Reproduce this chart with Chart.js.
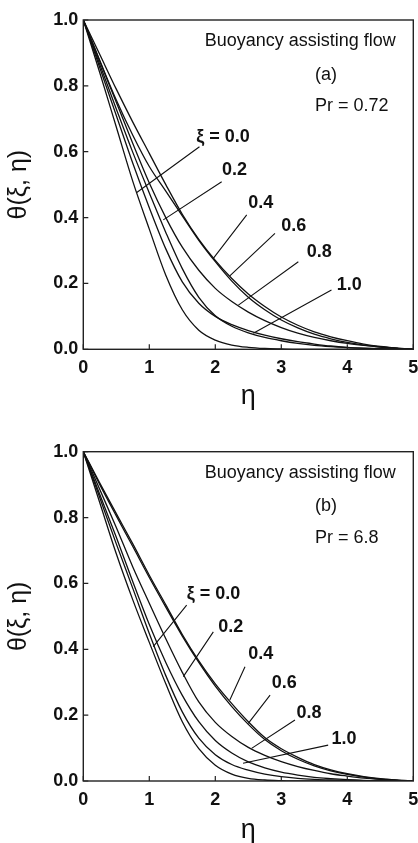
<!DOCTYPE html>
<html><head><meta charset="utf-8">
<script src="https://cdn.jsdelivr.net/npm/chart.js@4/dist/chart.umd.min.js"></script>
<style>
html,body{margin:0;padding:0;background:#fff;}
body{width:418px;height:843px;overflow:hidden;position:relative;}
.wrap{position:absolute;left:0;width:418px;}
#wa{top:0;height:421px;}
#wb{top:421px;height:422px;}
</style></head><body>
<div class="wrap" id="wa"><canvas id="ca" width="418" height="421"></canvas></div>
<div class="wrap" id="wb"><canvas id="cb" width="418" height="422"></canvas></div>
<script>
// ---------- data ----------
const eta = [0,0.25,0.5,0.75,1,1.25,1.5,1.75,2,2.25,2.5,2.75,3,3.25,3.5,3.75,4,4.25,4.5,4.75,5];
const xTicks = [0,1,2,3,4,5];
const yTicks = [0,0.2,0.4,0.6,0.8,1.0];
const xiLabels = ['ξ = 0.0','0.2','0.4','0.6','0.8','1.0'];

// Panel (a) Pr = 0.72
const a_xi00 = [1,0.84,0.675,0.51,0.365,0.225,0.12,0.058,0.028,0.013,0.006,0.0025,0.001,0,0,0,0,0,0,0,0];
const a_xi02 = [1,0.865,0.73,0.598,0.475,0.355,0.245,0.158,0.102,0.07,0.05,0.036,0.026,0.018,0.012,0.008,0.005,0.003,0.0015,0.0006,0];
const a_xi04 = [1,0.877,0.757,0.65,0.555,0.48,0.405,0.331,0.266,0.207,0.158,0.12,0.089,0.065,0.046,0.032,0.021,0.013,0.007,0.003,0];
const a_xi06 = [1,0.895,0.79,0.69,0.595,0.5,0.41,0.334,0.27,0.215,0.168,0.13,0.098,0.073,0.053,0.038,0.026,0.016,0.009,0.004,0];
const a_xi08 = [1,0.875,0.75,0.625,0.505,0.4,0.31,0.24,0.185,0.145,0.113,0.087,0.066,0.049,0.036,0.026,0.018,0.012,0.007,0.003,0];
const a_xi10 = [1,0.855,0.71,0.565,0.43,0.305,0.205,0.14,0.1,0.075,0.057,0.043,0.032,0.023,0.016,0.01,0.006,0.0035,0.0018,0.0007,0];

// Panel (b) Pr = 6.8
const b_xi00 = [1,0.845,0.69,0.55,0.421,0.295,0.18,0.098,0.048,0.021,0.008,0.003,0.001,0,0,0,0,0,0,0,0];
const b_xi02 = [1,0.885,0.77,0.65,0.54,0.432,0.33,0.24,0.178,0.135,0.102,0.078,0.059,0.044,0.032,0.022,0.015,0.009,0.005,0.002,0];
const b_xi04 = [1,0.905,0.812,0.72,0.625,0.535,0.445,0.365,0.295,0.235,0.18,0.132,0.098,0.072,0.05,0.034,0.022,0.013,0.007,0.003,0];
const b_xi06 = [1,0.9,0.805,0.712,0.618,0.528,0.44,0.36,0.288,0.226,0.172,0.126,0.092,0.066,0.046,0.031,0.02,0.012,0.006,0.002,0];
const b_xi08 = [1,0.87,0.74,0.605,0.475,0.36,0.26,0.18,0.123,0.085,0.058,0.04,0.027,0.018,0.011,0.007,0.004,0.002,0.001,0.0004,0];
const b_xi10 = [1,0.86,0.72,0.585,0.448,0.32,0.21,0.13,0.08,0.05,0.033,0.021,0.013,0.008,0.005,0.003,0.0015,0.0007,0.0003,0,0];

// annotation anchors in data units (eta, theta)
const a_labelPos = [[1.71,0.645],[2.10,0.545],[2.50,0.445],[3.00,0.374],[3.385,0.296],[3.84,0.195]];
const a_leaders  = [[1.76,0.615,0.81,0.476],[2.097,0.509,1.212,0.393],[2.476,0.408,1.97,0.276],[2.904,0.352,2.22,0.223],[3.258,0.266,2.35,0.134],[3.76,0.180,2.576,0.049]];
const b_labelPos = [[1.566,0.568],[2.045,0.467],[2.50,0.386],[2.854,0.297],[3.23,0.205],[3.76,0.127]];
const b_leaders  = [[1.566,0.534,1.06,0.408],[1.97,0.453,1.515,0.317],[2.45,0.347,2.22,0.246],[2.83,0.261,2.50,0.175],[3.207,0.185,2.55,0.099],[3.71,0.109,2.42,0.054]];
const a_notes = [['Buoyancy assisting flow',1.84,0.937],['(a)',3.51,0.833],['Pr = 0.72',3.51,0.739]];
const b_notes = [['Buoyancy assisting flow',1.84,0.934],['(b)',3.51,0.835],['Pr = 6.8',3.51,0.737]];

// ---------- drawing ----------
const FONT = "'Liberation Sans', Arial, Helvetica, sans-serif";

function frameAndAnnotations(labelPos, leaders, notes) {
  return {
    id: 'frameAnno',
    afterDatasetsDraw(chart) {
      const {ctx, chartArea: ca, scales: {x, y}} = chart;
      ctx.save();
      ctx.strokeStyle = '#222';
      ctx.lineWidth = 1.4;
      ctx.strokeRect(ca.left, ca.top, ca.right - ca.left, ca.bottom - ca.top);
      ctx.lineWidth = 1.2;
      ctx.beginPath();
      xTicks.forEach(v => { const px = x.getPixelForValue(v); ctx.moveTo(px, ca.bottom); ctx.lineTo(px, ca.bottom - 5); });
      yTicks.forEach(v => { const py = y.getPixelForValue(v); ctx.moveTo(ca.left, py); ctx.lineTo(ca.left + 5, py); });
      ctx.stroke();
      ctx.lineWidth = 1.1;
      ctx.strokeStyle = '#111';
      ctx.beginPath();
      leaders.forEach(l => {
        ctx.moveTo(x.getPixelForValue(l[0]), y.getPixelForValue(l[1]));
        ctx.lineTo(x.getPixelForValue(l[2]), y.getPixelForValue(l[3]));
      });
      ctx.stroke();
      ctx.fillStyle = '#111';
      ctx.textBaseline = 'middle';
      ctx.textAlign = 'left';
      ctx.font = 'bold 18px ' + FONT;
      labelPos.forEach((p, i) => ctx.fillText(xiLabels[i], x.getPixelForValue(p[0]), y.getPixelForValue(p[1])));
      ctx.font = '18px ' + FONT;
      notes.forEach(n => ctx.fillText(n[0], x.getPixelForValue(n[1]), y.getPixelForValue(n[2])));
      ctx.restore();
    }
  };
}

function makeChart(id, series, labelPos, leaders, notes, padTop, xHeight, xTitlePad) {
  const datasets = series.map((s, i) => ({
    label: 'ξ = ' + ['0.0','0.2','0.4','0.6','0.8','1.0'][i],
    data: eta.map((e, k) => ({x: e, y: s[k]})),
    borderColor: '#111', borderWidth: 1.3, pointRadius: 0,
    cubicInterpolationMode: 'monotone', fill: false
  }));
  return new Chart(document.getElementById(id), {
    type: 'line',
    data: {datasets},
    options: {
      responsive: false, animation: false,
      layout: {padding: {top: padTop, right: 4.7, bottom: 0, left: 0}},
      plugins: {legend: {display: false}, tooltip: {enabled: false}},
      scales: {
        x: {
          type: 'linear', min: 0, max: 5,
          afterBuildTicks: s => { s.ticks = xTicks.map(v => ({value: v})); },
          ticks: {color: '#111', font: {size: 18, weight: 'bold', family: FONT}, padding: 8, maxRotation: 0,
                  callback: v => String(v)},
          grid: {display: false, drawTicks: false}, border: {display: false},
          title: {display: true, text: 'η', color: '#111', font: {size: 27, family: FONT, lineHeight: 1.0}, padding: {top: 0, bottom: xTitlePad}},
          afterFit: s => { s.height = xHeight; s.paddingRight = 0; s.paddingLeft = 0; }
        },
        y: {
          type: 'linear', min: 0, max: 1,
          afterBuildTicks: s => { s.ticks = yTicks.map(v => ({value: v})); },
          ticks: {color: '#111', font: {size: 18, weight: 'bold', family: FONT}, padding: 5,
                  callback: v => Number(v).toFixed(1)},
          grid: {display: false, drawTicks: false}, border: {display: false},
          title: {display: true, text: 'θ(ξ, η)', color: '#111', font: {size: 25, family: FONT, lineHeight: 1.0}, padding: {top: 7, bottom: 0}},
          afterFit: s => { s.width = 83.3; s.paddingTop = 0; s.paddingBottom = 0; }
        }
      }
    },
    plugins: [frameAndAnnotations(labelPos, leaders, notes)]
  });
}

makeChart('ca', [a_xi00, a_xi02, a_xi04, a_xi06, a_xi08, a_xi10], a_labelPos, a_leaders, a_notes, 20, 71.7, 11);
makeChart('cb', [b_xi00, b_xi02, b_xi04, b_xi06, b_xi08, b_xi10], b_labelPos, b_leaders, b_notes, 30.7, 62, -1);
</script>
</body></html>
